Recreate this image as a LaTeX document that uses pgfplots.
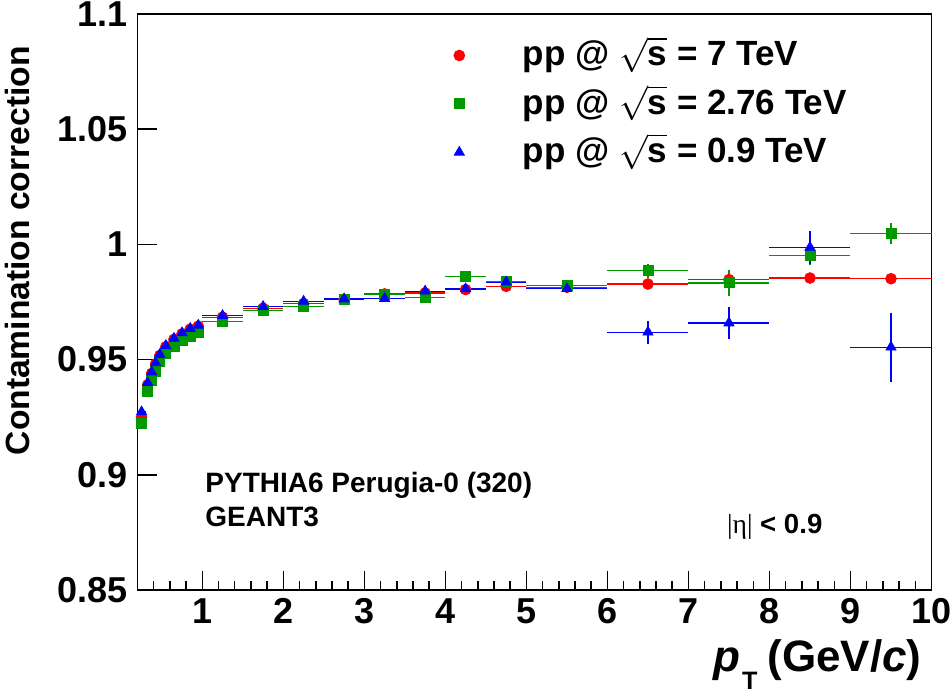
\documentclass[border=0pt]{standalone}
\usepackage{pgfplots}
\pgfplotsset{compat=1.18}
\usepackage{pgfplotstable}
\usepackage{fontspec}
\setmainfont{Liberation Sans}
\newfontfamily\serifeta{Liberation Serif}
\definecolor{rootred}{RGB}{255,0,0}
\definecolor{rootgreen}{RGB}{0,153,0}
\definecolor{rootblue}{RGB}{0,0,255}

\pgfplotstableread{
x     y       ex     ey
0.25  0.9250  0.05   0.0003
0.325 0.9390  0.025  0.0003
0.375 0.9440  0.025  0.0003
0.425 0.9482  0.025  0.0003
0.475 0.9518  0.025  0.0003
0.55  0.9556  0.05   0.0003
0.65  0.9588  0.05   0.0003
0.75  0.9612  0.05   0.0003
0.85  0.9632  0.05   0.0003
0.95  0.9645  0.05   0.0003
1.25  0.9684  0.25   0.0003
1.75  0.9723  0.25   0.0003
2.25  0.9743  0.25   0.0004
2.75  0.9762  0.25   0.0005
3.25  0.9785  0.25   0.0005
3.75  0.9789  0.25   0.0006
4.25  0.9804  0.25   0.0007
4.75  0.9818  0.25   0.0008
5.5   0.9814  0.5    0.0008
6.5   0.9828  0.5    0.0010
7.5   0.9847  0.5    0.0015
8.5   0.9854  0.5    0.0012
9.5   0.9851  0.5    0.0012
}\redtab

\pgfplotstableread{
x     y       ex     ey
0.25  0.9225  0.05   0.0004
0.325 0.9364  0.025  0.0004
0.375 0.9410  0.025  0.0004
0.425 0.9450  0.025  0.0004
0.475 0.9494  0.025  0.0004
0.55  0.9525  0.05   0.0004
0.65  0.9558  0.05   0.0004
0.75  0.9583  0.05   0.0004
0.85  0.9602  0.05   0.0004
0.95  0.9616  0.05   0.0004
1.25  0.9664  0.25   0.0005
1.75  0.9712  0.25   0.0006
2.25  0.9730  0.25   0.0007
2.75  0.9760  0.25   0.0008
3.25  0.9782  0.25   0.0010
3.75  0.9771  0.25   0.0012
4.25  0.9860  0.25   0.0014
4.75  0.9840  0.25   0.0016
5.5   0.9822  0.5    0.0018
6.5   0.9886  0.5    0.0030
7.5   0.9833  0.5    0.0055
8.5   0.9952  0.5    0.0040
9.5   1.0046  0.5    0.0045
}\greentab

\pgfplotstableread{
x     y       ex     ey
0.25  0.9273  0.05   0.0004
0.325 0.9400  0.025  0.0004
0.375 0.9446  0.025  0.0004
0.425 0.9486  0.025  0.0004
0.475 0.9522  0.025  0.0004
0.55  0.9561  0.05   0.0004
0.65  0.9592  0.05   0.0004
0.75  0.9616  0.05   0.0004
0.85  0.9635  0.05   0.0004
0.95  0.9649  0.05   0.0004
1.25  0.9691  0.25   0.0005
1.75  0.9730  0.25   0.0006
2.25  0.9753  0.25   0.0007
2.75  0.9763  0.25   0.0008
3.25  0.9765  0.25   0.0010
3.75  0.9797  0.25   0.0012
4.25  0.9807  0.25   0.0014
4.75  0.9836  0.25   0.0016
5.5   0.9808  0.5    0.0018
6.5   0.9619  0.5    0.0050
7.5   0.9659  0.5    0.0068
8.5   0.9987  0.5    0.0070
9.5   0.9554  0.5    0.0150
}\bluetab

\begin{document}
\begin{tikzpicture}
\begin{axis}[
  scale only axis,
  width=397pt, height=288pt,
  xmin=0.2, xmax=10, ymin=0.85, ymax=1.1,
  clip=false,
  xtick={1,2,3,4,5,6,7,8,9,10},
  xticklabels={1,2,3,4,5,6,7,8,9,10},
  minor xtick={0.2,0.4,...,10},
  ytick={0.85,0.9,0.95,1,1.05,1.1},
  yticklabels={0.85,0.9,0.95,1,1.05,1.1},
  tick align=inside,
  xtick pos=bottom, ytick pos=left,
  major tick length=9.5pt, minor tick length=4.75pt,
  tick style={black, line width=0.75pt},
  axis line style={line width=0.75pt},
  ticklabel style={font=\fontsize{18}{20}\selectfont\bfseries},
  yticklabel style={inner sep=0pt, xshift=-4.7pt},
  xticklabel style={inner sep=0pt, yshift=-4pt},
  xlabel={\textit{p}\kern1pt\raisebox{-9pt}{\fontsize{12.6}{13}\selectfont T}\kern5pt(GeV/\textit{c})},
  xlabel style={at={(axis description cs:0.988,-0.1418)}, anchor=base east, inner sep=0pt,
    font=\fontsize{22}{24}\selectfont\bfseries},
  ylabel={Contamination correction},
  ylabel style={at={(axis description cs:-0.1669,0.9445)}, anchor=north east, inner sep=0pt,
    font=\fontsize{16.8}{19}\selectfont\bfseries},
  legend style={at={(axis description cs:0.398,0.954)}, anchor=north west,
    draw=none, fill=none, inner sep=0pt, column sep=29pt, row sep=8.2pt,
    font=\fontsize{17.5}{20}\selectfont\bfseries,
    nodes={inner sep=0pt, text height=12.5pt, text depth=3.5pt}},
  legend cell align=left,
  legend image code/.code={\draw[only marks] plot coordinates {(0pt,0.7pt)};},
]
\addplot[only marks, color=rootred, mark=*, mark size=2.7pt,
  error bars/.cd, x dir=both, x explicit, y dir=both, y explicit,
  error bar style={line width=0.65pt, color=rootred}, error mark=none]
  table[x=x, y=y, x error=ex, y error=ey] {\redtab};
\addlegendentry{pp @ $\sqrt{\mbox{s}}$ = 7 TeV}
\addplot[only marks, color=rootgreen, mark=square*, mark size=2.5pt,
  error bars/.cd, x dir=both, x explicit, y dir=both, y explicit,
  error bar style={line width=0.65pt, color=rootgreen}, error mark=none]
  table[x=x, y=y, x error=ex, y error=ey] {\greentab};
\addlegendentry{pp @ $\sqrt{\mbox{s}}$ = 2.76 TeV}
\addplot[only marks, color=rootblue, mark=triangle*, mark size=2.9pt,
  error bars/.cd, x dir=both, x explicit, y dir=both, y explicit,
  error bar style={line width=0.65pt, color=rootblue}, error mark=none]
  table[x=x, y=y, x error=ex, y error=ey] {\bluetab};
\addlegendentry{pp @ $\sqrt{\mbox{s}}$ = 0.9 TeV}

\node[anchor=base west, inner sep=0pt, font=\fontsize{14}{16}\selectfont\bfseries]
  at (rel axis cs:0.085,0.170) {PYTHIA6 Perugia-0 (320)};
\node[anchor=base west, inner sep=0pt, font=\fontsize{14}{16}\selectfont\bfseries]
  at (rel axis cs:0.085,0.1095) {GEANT3};
\node[anchor=base west, inner sep=0pt, font=\fontsize{13.8}{15}\selectfont\bfseries]
  at (rel axis cs:0.742,0.098) {{\serifeta\mdseries |η|} < 0.9};
\end{axis}
\pgfresetboundingbox
\path[use as bounding box] ([shift={(-68.75pt,-51.5pt)}]current axis.south west)
  rectangle ([shift={(9.25pt,7pt)}]current axis.north east);
\end{tikzpicture}
\end{document}
